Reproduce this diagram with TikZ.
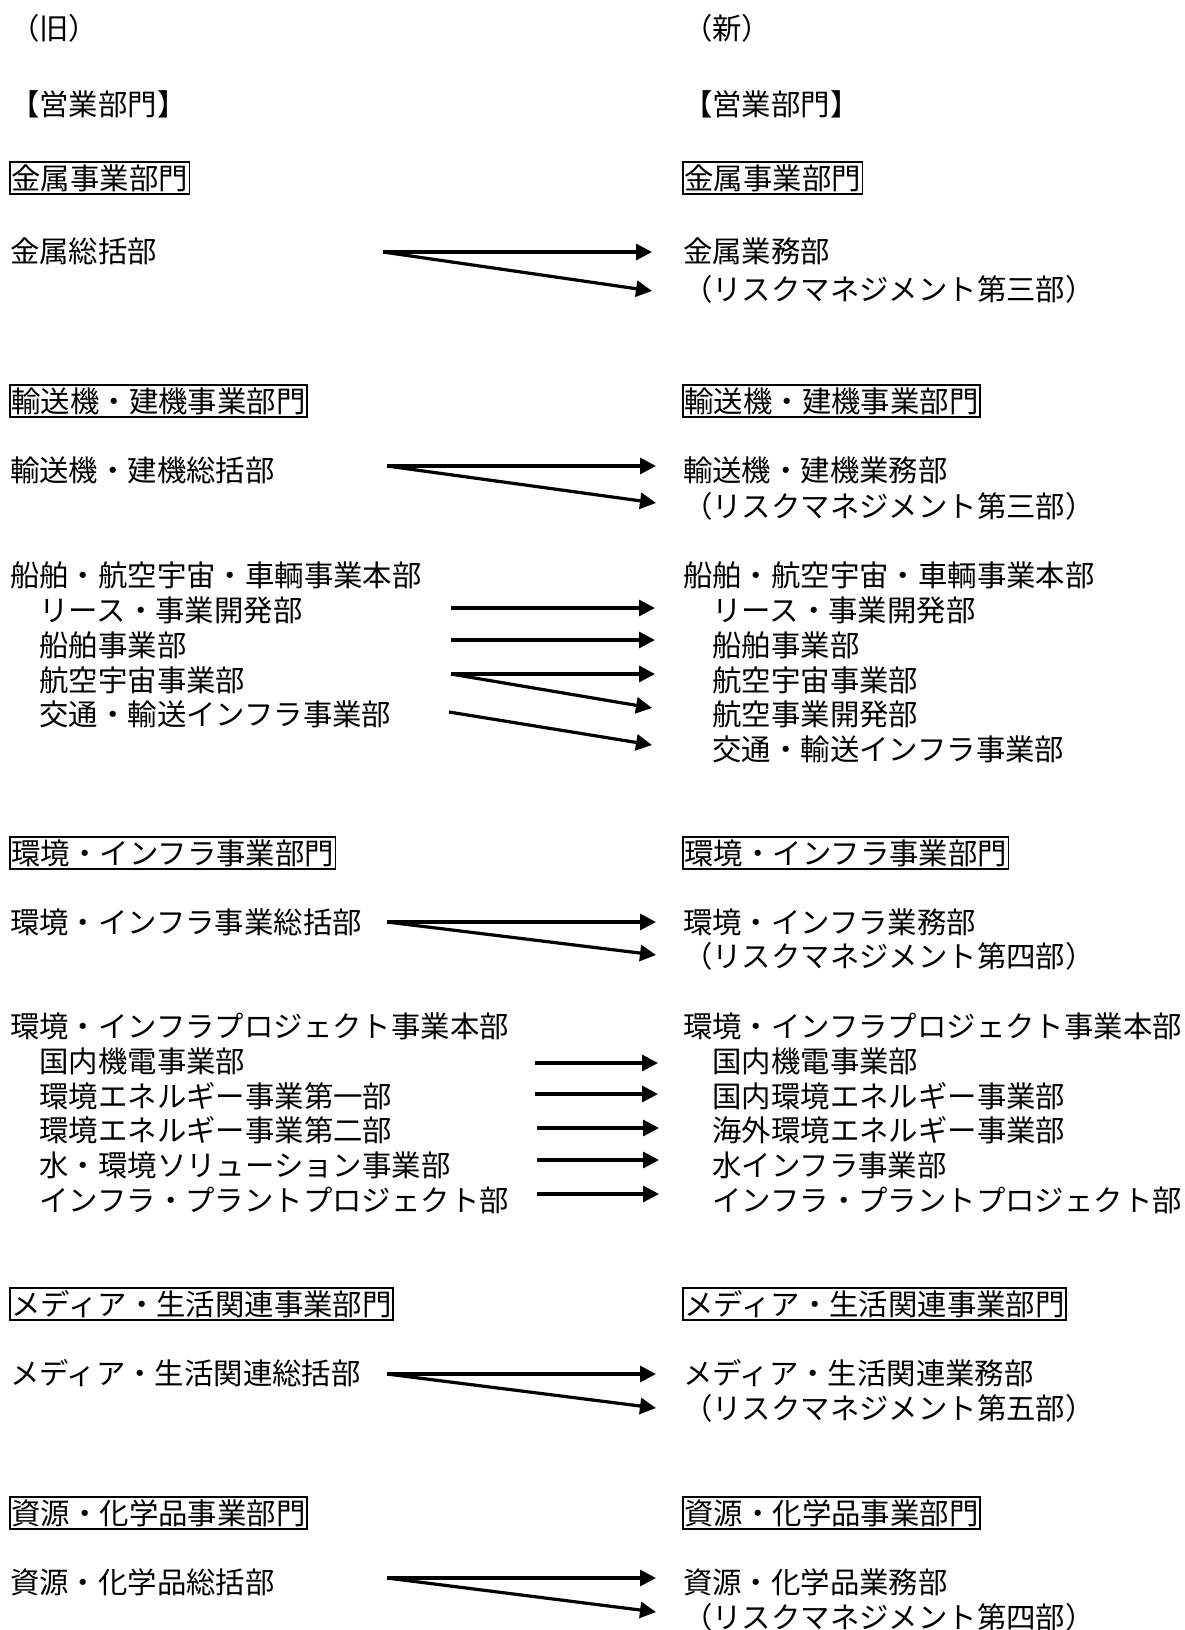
\documentclass[tikz,border=0pt]{standalone}
\usepackage{fontspec}
\setmainfont{Noto Sans CJK JP}
\usetikzlibrary{arrows.meta}
\tikzset{
  txt/.style={anchor=west, inner sep=0pt, outer sep=0pt, text height=25.9pt, text depth=3.5pt,
              font=\fontsize{29.4pt}{35pt}\selectfont},
  hdr/.style={txt, draw, line width=1.5pt, inner sep=1.5pt},
  arr/.style={line width=3.2pt, -{Triangle[length=16pt,width=16pt]}}
}
\begin{document}
\begin{tikzpicture}[x=1pt,y=-1pt]
\useasboundingbox (0,0) rectangle (1184,1630);
% headings
\node[txt] (old) at (10,28) {（旧）};
\node[txt] (new) at (683,28) {（新）};
\node[txt] (eigyoL) at (10,104) {【営業部門】};
\node[txt] (eigyoR) at (683,104) {【営業部門】};
% metals
\node[hdr] (kinL) at (10,178) {金属事業部門};
\node[hdr] (kinR) at (683,178) {金属事業部門};
\node[txt] (kinSo) at (10,251) {金属総括部};
\node[txt] (kinGyo) at (683,251) {金属業務部};
\node[txt] (kinRisk) at (683,289) {（リスクマネジメント第三部）};
\coordinate (kinA) at (383,252);
\coordinate (kinB) at (652,252);
\coordinate (kinC) at (652,291);
\draw[arr] (kinA) -- (kinB);
\draw[arr] (kinA) -- (kinC);
% transport
\node[hdr] (yuL) at (10,401) {輸送機・建機事業部門};
\node[hdr] (yuR) at (683,401) {輸送機・建機事業部門};
\node[txt] (yuSo) at (10,470) {輸送機・建機総括部};
\node[txt] (yuGyo) at (683,470) {輸送機・建機業務部};
\node[txt] (yuRisk) at (683,506) {（リスクマネジメント第三部）};
\coordinate (yuA) at (387,466);
\coordinate (yuB) at (656,466);
\coordinate (yuC) at (656,503);
\draw[arr] (yuA) -- (yuB);
\draw[arr] (yuA) -- (yuC);
% ships etc.
\node[txt] (senL) at (10,575) {船舶・航空宇宙・車輌事業本部};
\node[txt] (senR) at (683,575) {船舶・航空宇宙・車輌事業本部};
\node[txt] (l1) at (39.4,610) {リース・事業開発部};
\node[txt] (l2) at (39.4,645) {船舶事業部};
\node[txt] (l3) at (39.4,680) {航空宇宙事業部};
\node[txt] (l4) at (39.4,714) {交通・輸送インフラ事業部};
\node[txt] (r1) at (712.4,610) {リース・事業開発部};
\node[txt] (r2) at (712.4,645) {船舶事業部};
\node[txt] (r3) at (712.4,680) {航空宇宙事業部};
\node[txt] (r4) at (712.4,714) {航空事業開発部};
\node[txt] (r5) at (712.4,749) {交通・輸送インフラ事業部};
\coordinate (s1a) at (451,608); \coordinate (s1b) at (655,608);
\coordinate (s2a) at (451,640); \coordinate (s2b) at (655,640);
\coordinate (s3a) at (451,674); \coordinate (s3b) at (655,674);
\coordinate (s4b) at (652,708);
\coordinate (s5a) at (449,712); \coordinate (s5b) at (652,745);
\draw[arr] (s1a) -- (s1b);
\draw[arr] (s2a) -- (s2b);
\draw[arr] (s3a) -- (s3b);
\draw[arr] (s3a) -- (s4b);
\draw[arr] (s5a) -- (s5b);
% environment
\node[hdr] (kanL) at (10,853) {環境・インフラ事業部門};
\node[hdr] (kanR) at (683,853) {環境・インフラ事業部門};
\node[txt] (kanSo) at (10,922) {環境・インフラ事業総括部};
\node[txt] (kanGyo) at (683,922) {環境・インフラ業務部};
\node[txt] (kanRisk) at (683,956) {（リスクマネジメント第四部）};
\coordinate (kanA) at (387,922);
\coordinate (kanB) at (656,922);
\coordinate (kanC) at (656,955);
\draw[arr] (kanA) -- (kanB);
\draw[arr] (kanA) -- (kanC);
\node[txt] (pjL) at (10,1026) {環境・インフラプロジェクト事業本部};
\node[txt] (pjR) at (683,1026) {環境・インフラプロジェクト事業本部};
\node[txt] (p1) at (39.4,1061) {国内機電事業部};
\node[txt] (p2) at (39.4,1096) {環境エネルギー事業第一部};
\node[txt] (p3) at (39.4,1130) {環境エネルギー事業第二部};
\node[txt] (p4) at (39.4,1165) {水・環境ソリューション事業部};
\node[txt] (p5) at (39.4,1200) {インフラ・プラントプロジェクト部};
\node[txt] (q1) at (712.4,1061) {国内機電事業部};
\node[txt] (q2) at (712.4,1096) {国内環境エネルギー事業部};
\node[txt] (q3) at (712.4,1130) {海外環境エネルギー事業部};
\node[txt] (q4) at (712.4,1165) {水インフラ事業部};
\node[txt] (q5) at (712.4,1200) {インフラ・プラントプロジェクト部};
\coordinate (e1a) at (535,1063); \coordinate (e1b) at (658,1063);
\coordinate (e2a) at (535,1094); \coordinate (e2b) at (658,1094);
\coordinate (e3a) at (537,1128); \coordinate (e3b) at (659,1128);
\coordinate (e4a) at (537,1160); \coordinate (e4b) at (659,1160);
\coordinate (e5a) at (537,1194); \coordinate (e5b) at (659,1194);
\draw[arr] (e1a) -- (e1b);
\draw[arr] (e2a) -- (e2b);
\draw[arr] (e3a) -- (e3b);
\draw[arr] (e4a) -- (e4b);
\draw[arr] (e5a) -- (e5b);
% media
\node[hdr] (meL) at (10,1304) {メディア・生活関連事業部門};
\node[hdr] (meR) at (683,1304) {メディア・生活関連事業部門};
\node[txt] (meSo) at (10,1373) {メディア・生活関連総括部};
\node[txt] (meGyo) at (683,1373) {メディア・生活関連業務部};
\node[txt] (meRisk) at (683,1408) {（リスクマネジメント第五部）};
\coordinate (meA) at (387,1374);
\coordinate (meB) at (656,1374);
\coordinate (meC) at (656,1408);
\draw[arr] (meA) -- (meB);
\draw[arr] (meA) -- (meC);
% resources
\node[hdr] (shL) at (10,1513) {資源・化学品事業部門};
\node[hdr] (shR) at (683,1513) {資源・化学品事業部門};
\node[txt] (shSo) at (10,1582) {資源・化学品総括部};
\node[txt] (shGyo) at (683,1582) {資源・化学品業務部};
\node[txt] (shRisk) at (683,1617) {（リスクマネジメント第四部）};
\coordinate (shA) at (387,1578);
\coordinate (shB) at (656,1578);
\coordinate (shC) at (656,1612);
\draw[arr] (shA) -- (shB);
\draw[arr] (shA) -- (shC);
\end{tikzpicture}
\end{document}
